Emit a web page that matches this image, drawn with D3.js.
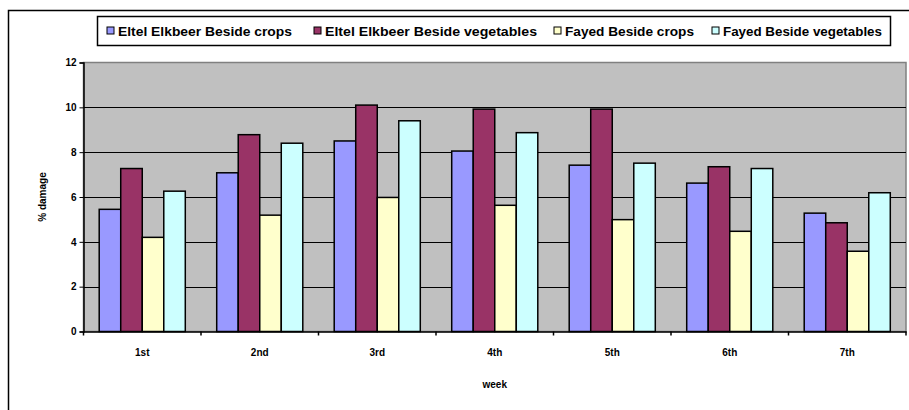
<!DOCTYPE html>
<html><head><meta charset="utf-8">
<script src="https://cdn.jsdelivr.net/npm/d3@7"></script>
<style>body{margin:0;background:#fff}svg{display:block;font-family:"Liberation Sans",Arial,sans-serif;font-weight:bold}</style>
</head><body><svg id="c" width="909" height="410"></svg>
<script>
const weeks = ["1st","2nd","3rd","4th","5th","6th","7th"];
const seriesNames = ["Eltel Elkbeer Beside crops","Eltel Elkbeer Beside vegetables","Fayed Beside crops","Fayed Beside vegetables"];
const eltelCrops = [5.45,7.08,8.5,8.05,7.42,6.62,5.28];
const eltelVeg = [7.27,8.78,10.1,9.92,9.92,7.35,4.85];
const fayedCrops = [4.2,5.19,5.98,5.63,4.99,4.47,3.58];
const fayedVeg = [6.26,8.4,9.4,8.87,7.51,7.27,6.19];
const colors = ["#9999FF","#993366","#FFFFCC","#CCFFFF"];
const yTicks = [0,2,4,6,8,10,12];
const seriesVals = [eltelCrops, eltelVeg, fayedCrops, fayedVeg];

const svg = d3.select("#c");
svg.append("rect").attr("x",8.5).attr("y",10.5).attr("width",920).attr("height",420)
  .attr("fill","none").attr("stroke","#000").attr("stroke-width",1.5);

const L=83.5, R=906, T=62.5, B=331.5;
const x = d3.scaleBand().domain(weeks).range([L,R]).padding(0);
const x1 = d3.scaleBand().domain(d3.range(4)).range([0,x.bandwidth()]).paddingInner(0).paddingOuter(0.73);
const y = d3.scaleLinear().domain([0,12]).range([B,T]);

svg.append("rect").attr("x",L).attr("y",T).attr("width",R-L).attr("height",B-T)
  .attr("fill","#C0C0C0").attr("stroke","#808080").attr("stroke-width",1.5);

svg.append("g").selectAll("line").data(yTicks.filter(d=>d>0&&d<12)).join("line")
  .attr("x1",L).attr("x2",R).attr("y1",d=>Math.round(y(d))+0.5).attr("y2",d=>Math.round(y(d))+0.5)
  .attr("stroke","#000").attr("stroke-width",1.2);

const g = svg.append("g").selectAll("g").data(weeks).join("g")
  .attr("transform",d=>`translate(${x(d)},0)`);
g.selectAll("rect").data((w,i)=>seriesVals.map((s,k)=>({k,v:s[i]}))).join("rect")
  .attr("x",d=>x1(d.k)).attr("width",x1.bandwidth())
  .attr("y",d=>y(d.v)).attr("height",d=>B-y(d.v))
  .attr("fill",d=>colors[d.k]).attr("stroke","#000").attr("stroke-width",1.5);

const ya = svg.append("g").attr("transform",`translate(${L},0)`)
  .call(d3.axisLeft(y).tickValues(yTicks).tickSize(4).tickPadding(3));
ya.select(".domain").attr("stroke","#000").attr("stroke-width",1.5);
ya.selectAll("text").attr("font-size",10).attr("font-weight","bold").attr("font-family","Liberation Sans, Arial");

const xa = svg.append("g").attr("transform",`translate(0,${B})`)
  .call(d3.axisBottom(x).tickSize(0).tickPadding(17));
xa.select(".domain").attr("stroke","#000").attr("stroke-width",1.5);
xa.selectAll("text").attr("font-size",10).attr("font-weight","bold").attr("font-family","Liberation Sans, Arial");
svg.append("g").selectAll("line").data(weeks.map(w=>x(w)).concat([R])).join("line")
  .attr("x1",d=>d).attr("x2",d=>d).attr("y1",B).attr("y2",B+4).attr("stroke","#000").attr("stroke-width",1.5);

svg.append("text").attr("x",(L+R)/2).attr("y",388).attr("text-anchor","middle")
  .attr("font-size",10).text("week");
svg.append("text").attr("transform",`translate(46,${(T+B)/2}) rotate(-90)`).attr("text-anchor","middle")
  .attr("font-size",10).text("% damage");

svg.append("rect").attr("x",97.5).attr("y",16.5).attr("width",793).attr("height",29)
  .attr("fill","#fff").attr("stroke","#000").attr("stroke-width",1.5);
const legX = [107,314,554,712];
const legLen = [174,212,129,159];
const lg = svg.append("g").selectAll("g").data(seriesNames).join("g")
  .attr("transform",(d,i)=>`translate(${legX[i]},31)`);
lg.append("rect").attr("x",0).attr("y",-4).attr("width",7).attr("height",7)
  .attr("fill",(d,i)=>colors[i]).attr("stroke","#000").attr("stroke-width",1);
lg.append("text").attr("x",11).attr("y",5).attr("font-size",13)
  .attr("textLength",(d,i)=>legLen[i]).attr("lengthAdjust","spacingAndGlyphs").text(d=>d);
</script></body></html>
